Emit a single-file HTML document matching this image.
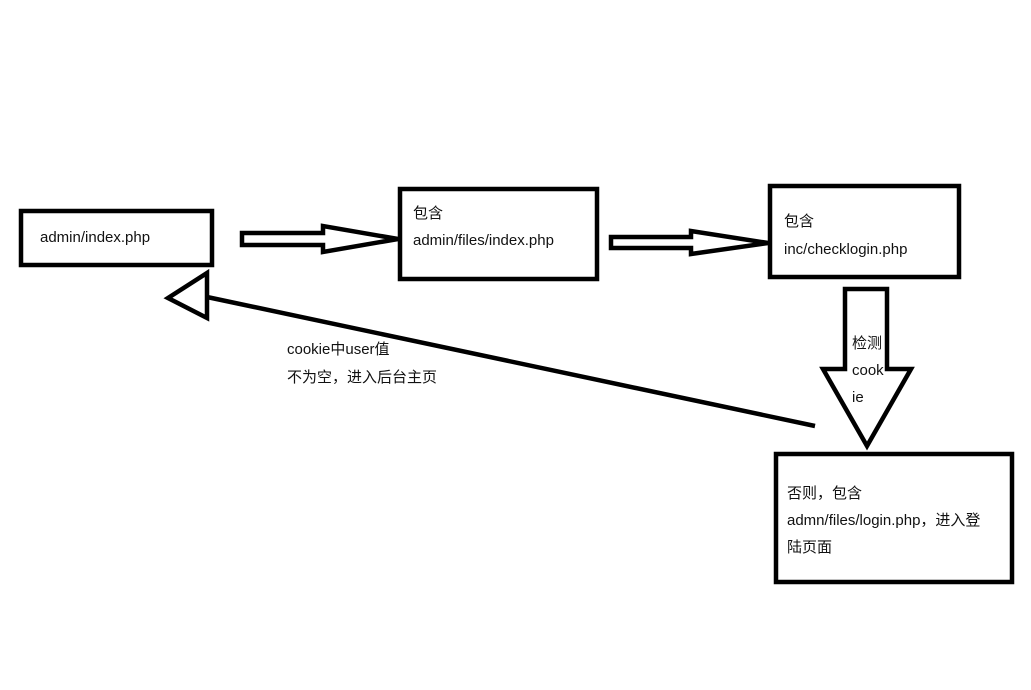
<!DOCTYPE html>
<html><head><meta charset="utf-8"><style>
body{margin:0;background:#fff;}
svg text{font-family:"Liberation Sans","Noto Sans CJK SC",sans-serif;font-size:15px;fill:#111;}
</style></head><body>
<svg width="1031" height="685" viewBox="0 0 1031 685" xmlns="http://www.w3.org/2000/svg">
<rect width="1031" height="685" fill="#fff"/>
<g fill="none" stroke="#000" stroke-width="4.5" stroke-linejoin="miter">
<rect x="21" y="211" width="191" height="54"/>
<rect x="400" y="189" width="197" height="90"/>
<rect x="770" y="186" width="189" height="91"/>
<rect x="776" y="454" width="236" height="128"/>
<polygon points="242,233 323,233 323,226 398,239 323,252 323,245 242,245"/>
<polygon points="611,237 691,237 691,231 768,243 691,254 691,248 611,248"/>
<polygon points="845,289 887,289 887,369 911,369 867,446 823,369 845,369"/>
<polygon points="168,298 207,273 207,318"/>
<line x1="207" y1="297" x2="815" y2="426"/>
</g>
<text x="40" y="242">admin/index.php</text>
<text x="413" y="218">包含</text>
<text x="413" y="245">admin/files/index.php</text>
<text x="784" y="226">包含</text>
<text x="784" y="254">inc/checklogin.php</text>
<text x="852" y="348">检测</text>
<text x="852" y="375">cook</text>
<text x="852" y="402">ie</text>
<text x="287" y="354">cookie中user值</text>
<text x="287" y="382">不为空，进入后台主页</text>
<text x="787" y="498">否则，包含</text>
<text x="787" y="525">admn/files/login.php，进入登</text>
<text x="787" y="552">陆页面</text>
</svg>
</body></html>
